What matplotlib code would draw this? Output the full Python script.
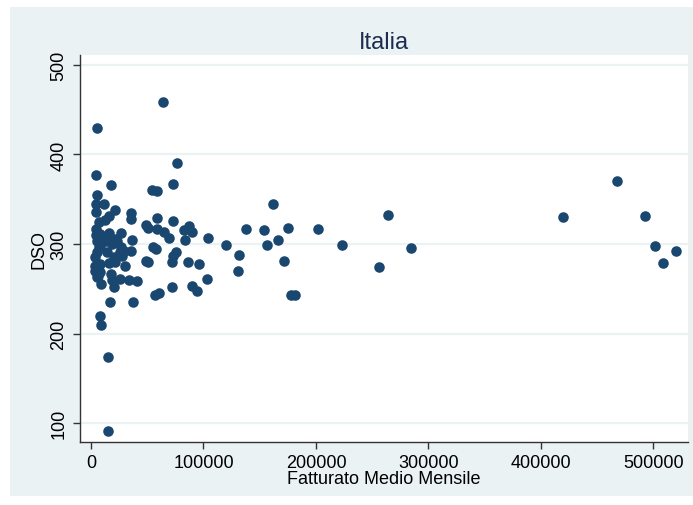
import matplotlib
matplotlib.use("Agg")
import matplotlib.pyplot as plt
from matplotlib.patches import Rectangle

plt.rcParams["font.family"] = ["Liberation Sans", "DejaVu Sans"]

# Average monthly turnover (EUR) and days sales outstanding per firm
fatturato = [
    5000, 64000, 4400, 76500, 17800, 73000, 54200, 58700, 5300, 4400,
    11600, 161800, 4400, 21300, 35600, 35600, 16000, 12400, 7100, 48900,
    50700, 58700, 58700, 64900, 69300, 72900, 82700, 87100, 89800, 83600,
    104000, 4400, 8000, 16000, 26700, 21300, 36400, 5300, 13300, 18700,
    26700, 7100, 23100, 8000, 5300, 14200, 25800, 29300, 20400, 35600,
    48900, 50700, 3600, 8000, 16000, 21300, 30200, 8000, 17800, 5300,
    18700, 25800, 33800, 40900, 8900, 20400, 16900, 37300, 8000, 8900,
    15100, 15100, 72900, 72000, 75600, 86200, 96000, 103100, 89800, 94200,
    72000, 56900, 60500, 55100, 57800, 120000, 131600, 130700, 137800, 153800,
    156500, 166200, 175100, 171600, 177800, 181400, 201800, 223100, 256000, 264000,
    284500, 419600, 467600, 492500, 501400, 508500, 520000, 27600, 3600, 4400,
    6200, 3600,
]
dso = [
    430, 458, 377, 390, 366, 367, 360, 359, 355, 345,
    345, 345, 336, 338, 335, 328, 331, 327, 325, 321,
    318, 329, 317, 313, 307, 326, 316, 320, 313, 304,
    307, 317, 311, 312, 312, 306, 304, 303, 303, 300,
    297, 297, 303, 298, 291, 291, 291, 292, 285, 292,
    281, 280, 275, 278, 279, 280, 275, 269, 267, 263,
    260, 261, 260, 259, 255, 252, 235, 235, 220, 210,
    174, 91, 287, 280, 291, 280, 278, 261, 253, 248,
    252, 243, 245, 297, 294, 299, 288, 270, 317, 316,
    299, 304, 318, 281, 243, 243, 317, 299, 274, 332,
    296, 330, 370, 331, 298, 279, 292, 287, 285, 310,
    264, 270,
]

x_ticks = [0, 100000, 200000, 300000, 400000, 500000]
y_ticks = [100, 200, 300, 400, 500]

bg = "#EAF2F3"
navy = "#1A476F"

fig = plt.figure(figsize=(6.93, 5.06), dpi=100)
fig.patch.set_facecolor("white")
fig.add_artist(Rectangle((10 / 693, 1 - 497 / 506), 1.0, 489 / 506,
                         transform=fig.transFigure, facecolor=bg,
                         edgecolor="none", zorder=-5))

ax = fig.add_axes([80 / 693, 1 - 443 / 506, 608 / 693, 387 / 506])
ax.set_zorder(2)
ax.set_facecolor("white")
ax.set_xlim(-9780, 530700)
ax.set_ylim(79, 511)

for yt in y_ticks:
    ax.axhline(yt, color=bg, lw=1.6, zorder=1)

ax.plot(fatturato, dso, linestyle="none", marker="o", ms=7.6,
        color=navy, markeredgewidth=0, zorder=3)

ax.set_xticks(x_ticks)
ax.set_xticklabels([str(v) for v in x_ticks])
ax.set_yticks(y_ticks)
ax.set_yticklabels([str(v) for v in y_ticks], rotation=90, va="center")

for side in ("top", "right"):
    ax.spines[side].set_visible(False)
for side in ("left", "bottom"):
    ax.spines[side].set_color("#333333")
    ax.spines[side].set_linewidth(1.0)

ax.tick_params(axis="both", direction="out", length=5, width=1.0,
               color="#333333", labelsize=13, labelcolor="black", pad=4)

ax.set_xlabel("Fatturato Medio Mensile", fontsize=13, labelpad=-1)
ax.set_ylabel("DSO", fontsize=13, labelpad=2)
ax.set_title("Italia", fontsize=17, color="#1E2D4F", pad=5)

fig.savefig("out.png", dpi=100, facecolor=fig.get_facecolor())
